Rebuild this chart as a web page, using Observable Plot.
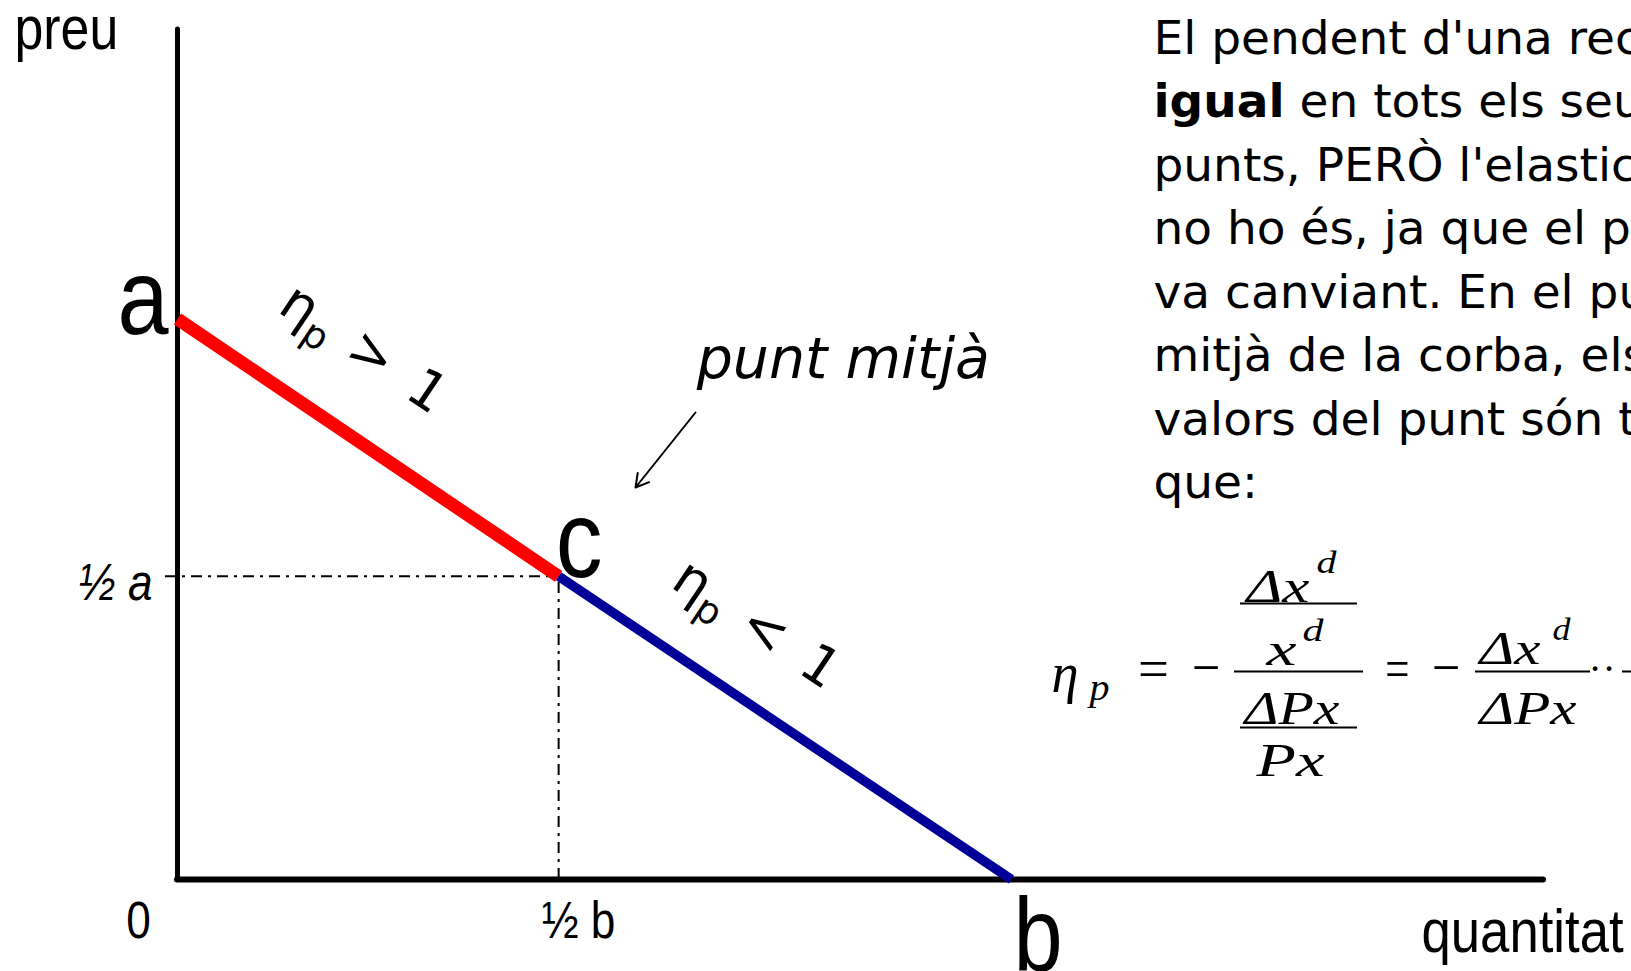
<!DOCTYPE html>
<html>
<head>
<meta charset="utf-8">
<script src="https://cdn.jsdelivr.net/npm/d3@7"></script>
<script src="https://cdn.jsdelivr.net/npm/@observablehq/plot@0.6"></script>
<style>
  html, body { margin: 0; padding: 0; overflow: hidden; background: #fff; width: 1631px; height: 971px; }
  #chart svg { display: block; }
</style>
</head>
<body>
<div id="chart"></div>
<script>
// ---------- data ----------
const a = 10;                 // price intercept (point a)
const b = 10;                 // quantity intercept (point b)
const midQ = 4.57;            // point c, quantity
const midP = 5.41;            // point c, price
const elasticSegment   = [{q: 0, p: a}, {q: midQ, p: midP}];
const inelasticSegment = [{q: midQ, p: midP}, {q: b, p: 0}];
const pointNames = ["a", "c", "b"];
const axisNames = ["preu", "quantitat"];
const tickNames = ["0", "½ b", "½ a"];
const elasticityLabels = ["η_p > 1", "η_p < 1"];
const midLabel = "punt mitjà";
const paragraph = [
  "El pendent d'una recta és",
  "igual en tots els seus",
  "punts, PERÒ l'elasticitat",
  "no ho és, ja que el preu",
  "va canviant. En el punt",
  "mitjà de la corba, els",
  "valors del punt són tals",
  "que:"
];
const boldWord = "igual";
const formulaGlyphs = ["η", "p", "=", "−", "Δx", "d", "x", "d", "ΔPx", "Px", "=", "−", "Δx", "d", "ΔPx", "·", "·"];

// ---------- layout ----------
const W = 1631, H = 971;
const M = {top: 29, right: 88, bottom: 92, left: 177};
const xMax = 16.379, yMax = 15.165;
const fx = px => (px - M.left) / (W - M.left - M.right) * xMax;
const fy = py => (H - M.bottom - py) / (H - M.top - M.bottom) * yMax;
const angle = Math.atan2(a * (H - M.top - M.bottom) / yMax, b * (W - M.left - M.right) / xMax) * 180 / Math.PI;

const NARROW = "Liberation Sans, Arial, sans-serif";
const NARROW_SCALE = 0.85;
const SANS = "DejaVu Sans, Verdana, sans-serif";
const SERIF = "Liberation Serif, Times New Roman, serif";

const c = elasticSegment[1];
const mid1 = {q: (elasticSegment[0].q + c.q) / 2, p: (elasticSegment[0].p + c.p) / 2};
const mid2 = {q: (c.q + inelasticSegment[1].q) / 2, p: (c.p + inelasticSegment[1].p) / 2};

// formula layout: [x, baseline, fontSize, textLength] in pixels
const formulaLayout = [
  [1051, 691, 56, 27], [1089, 699, 38, 20], [1134, 687, 58, 37], [1188, 686, 58, 34],
  [1246, 601, 47, 63], [1316, 572, 32, 20], [1266, 664, 47, 30], [1302, 640, 32, 21],
  [1244, 723, 47, 95], [1256, 775, 47, 68], [1382, 687, 58, 29], [1428, 686, 58, 34],
  [1479, 663, 47, 61], [1552, 639, 32, 18], [1479, 723, 47, 97], [1589, 681, 40, 10], [1603, 681, 40, 10]
];
const formula = formulaGlyphs.map((t, i) => ({t, x: fx(formulaLayout[i][0]), y: fy(formulaLayout[i][1]), fs: formulaLayout[i][2], len: formulaLayout[i][3]}));
const fractionBars = [[1234, 1363, 671], [1240, 1357, 603], [1240, 1357, 727], [1475, 1590, 671], [1622, 1720, 671]]
  .map(([x1, x2, y]) => ({x1: fx(x1), x2: fx(x2), y: fy(y)}));
const paraLines = paragraph.map((t, i) => ({t, x: fx(1153), y: fy(53 + i * 63.5)}));

const chart = Plot.plot({
  width: W, height: H,
  marginTop: M.top, marginRight: M.right, marginBottom: M.bottom, marginLeft: M.left,
  x: {domain: [0, xMax], axis: null},
  y: {domain: [0, yMax], axis: null},
  style: {background: "white", overflow: "hidden"},
  marks: [
    // guides
    Plot.ruleY([c], {y: "p", x1: fx(165), x2: "q", stroke: "black", strokeWidth: 2, strokeDasharray: "11,6,3,6"}),
    Plot.ruleX([c], {x: "q", y1: 0, y2: "p", stroke: "black", strokeWidth: 2, strokeDasharray: "11,6,3,6"}),
    // axes
    Plot.ruleX([0], {stroke: "black", strokeWidth: 5, strokeLinecap: "round"}),
    Plot.ruleY([0], {stroke: "black", strokeWidth: 6, strokeLinecap: "round"}),
    // demand line
    Plot.line(elasticSegment, {x: "q", y: "p", stroke: "#ff0000", strokeWidth: 13, strokeLinecap: "butt"}),
    Plot.line(inelasticSegment, {x: "q", y: "p", stroke: "#000099", strokeWidth: 9.5, strokeLinecap: "butt"}),
    // point labels
    Plot.text([elasticSegment[0]], {x: "q", y: "p", text: () => pointNames[0], fontFamily: NARROW, fontSize: 108, textAnchor: "end", lineAnchor: "bottom", dx: -9, dy: 15}),
    Plot.text([c], {x: "q", y: "p", text: () => pointNames[1], fontFamily: NARROW, fontSize: 110, textAnchor: "start", lineAnchor: "bottom", dx: -3, dy: 1}),
    Plot.text([inelasticSegment[1]], {x: "q", y: "p", text: () => pointNames[2], fontFamily: NARROW, fontSize: 104, textAnchor: "start", lineAnchor: "bottom", dx: 2, dy: 90}),
    // tick labels
    Plot.text([{q: 0, p: 0}], {x: "q", y: "p", text: () => tickNames[0], fontFamily: NARROW, fontSize: 52, textAnchor: "middle", lineAnchor: "bottom", dx: -39, dy: 58}),
    Plot.text([{q: c.q, p: 0}], {x: "q", y: "p", text: () => tickNames[1], fontFamily: NARROW, fontSize: 52, textAnchor: "start", lineAnchor: "bottom", dx: -17, dy: 58}),
    Plot.text([{q: 0, p: c.p}], {x: "q", y: "p", text: () => tickNames[2], fontFamily: NARROW, fontSize: 52, fontStyle: "italic", textAnchor: "end", lineAnchor: "bottom", dx: -25, dy: 24}),
    // axis names
    Plot.text([{q: 0, p: yMax}], {x: "q", y: "p", text: () => axisNames[0], fontFamily: NARROW, fontSize: 61, textAnchor: "start", lineAnchor: "bottom", dx: -163, dy: 19}),
    Plot.text([{q: xMax, p: 0}], {x: "q", y: "p", text: () => axisNames[1], fontFamily: NARROW, fontSize: 62, textAnchor: "start", lineAnchor: "bottom", dx: -122, dy: 72}),
    // elasticity labels
    Plot.text([mid1], {x: "q", y: "p", text: () => elasticityLabels[0], fontFamily: SANS, fontSize: 54, rotate: angle, textAnchor: "middle", lineAnchor: "bottom", dx: -12, dy: -83}),
    Plot.text([mid2], {x: "q", y: "p", text: () => elasticityLabels[1], fontFamily: SANS, fontSize: 54, rotate: angle, textAnchor: "middle", lineAnchor: "bottom", dx: -36, dy: -88}),
    // midpoint annotation
    Plot.text([c], {x: "q", y: "p", text: () => midLabel, fontFamily: SANS, fontSize: 57, fontStyle: "italic", textAnchor: "start", lineAnchor: "bottom", dx: 138, dy: -198}),
    Plot.arrow([{x1: fx(695), y1: fy(412), x2: fx(635), y2: fy(487)}], {x1: "x1", y1: "y1", x2: "x2", y2: "y2", stroke: "black", strokeWidth: 2, headLength: 11}),
    // paragraph
    Plot.text(paraLines, {x: "x", y: "y", text: "t", fontFamily: SANS, fontSize: 47, textAnchor: "start", lineAnchor: "bottom"}),
    // formula
    Plot.ruleY(fractionBars, {x1: "x1", x2: "x2", y: "y", stroke: "black", strokeWidth: 2}),
    Plot.text(formula, {x: "x", y: "y", text: "t", fontSize: "fs", fontFamily: SERIF, fontStyle: "italic", textAnchor: "start", lineAnchor: "bottom"})
  ]
});

document.getElementById("chart").append(chart);

// ---------- text refinements ----------
const NS = "http://www.w3.org/2000/svg";
const groups = [...chart.querySelectorAll("g")];
const byFont = f => groups.filter(g => g.getAttribute("font-family") === f);

byFont(NARROW).forEach(g => g.querySelectorAll("text").forEach(t => {
  t.setAttribute("transform", (t.getAttribute("transform") || "") + ` scale(${NARROW_SCALE},1)`);
}));

byFont(SERIF).forEach(g => {
  const texts = [...g.querySelectorAll("text")];
  if (texts.length === formula.length) {
    texts.forEach((t, i) => {
      t.setAttribute("textLength", formula[i].len);
      t.setAttribute("lengthAdjust", "spacingAndGlyphs");
    });
  }
});

const span = (txt, attrs = {}) => {
  const s = document.createElementNS(NS, "tspan");
  s.textContent = txt;
  for (const [k, v] of Object.entries(attrs)) s.setAttribute(k, v);
  return s;
};

chart.querySelectorAll("text").forEach(t => {
  const s = t.textContent;
  if (s.includes("_p")) {
    const [head, rest] = s.split("_p");
    t.textContent = "";
    t.append(span(head), span("p", {"font-size": "0.7em", dy: 11}), span(rest, {dy: -11, "letter-spacing": 5}));
  } else if (s.startsWith(boldWord + " ")) {
    t.textContent = "";
    t.append(span(boldWord, {"font-weight": "bold"}), span(s.slice(boldWord.length)));
  }
});
</script>
</body>
</html>
